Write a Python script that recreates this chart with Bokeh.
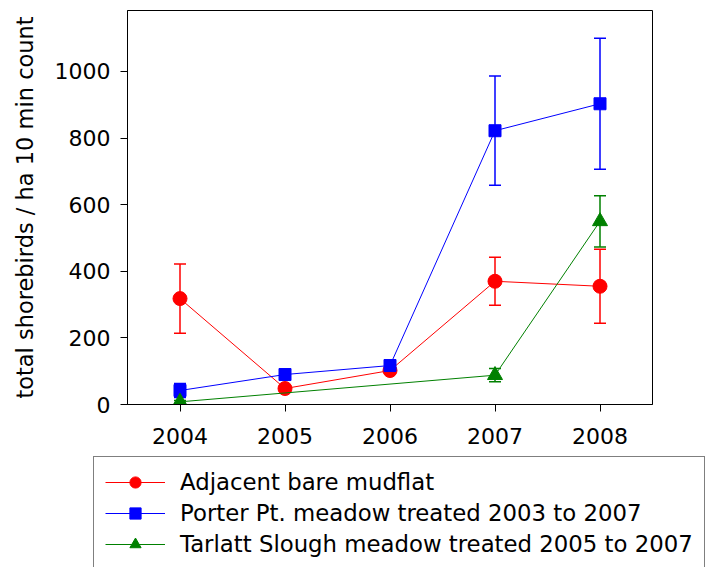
from bokeh.plotting import figure
from bokeh.models import Range1d, ColumnDataSource, Whisker, TeeHead, Legend, LegendItem, FixedTicker
from bokeh.layouts import column, row
from bokeh.embed import file_html
from bokeh.resources import INLINE

years = [2004, 2005, 2006, 2007, 2008]
mudflat = [318, 48, 102, 370, 355]
mudflat_err = [104, 8, 8, 72, 111]
porter = [42, 90, 117, 822, 903]
porter_err = [21, 8, 8, 164, 197]
tarlatt_years = [2004, 2007, 2008]
tarlatt = [8, 88, 550]
tarlatt_err = [4, 20, 77]
y_ticks = [0, 200, 400, 600, 800, 1000]
labels = ["Adjacent bare mudflat",
          "Porter Pt. meadow treated 2003 to 2007",
          "Tarlatt Slough meadow treated 2005 to 2007"]

FONT = "DejaVu Sans"

p = figure(width=710, height=450, output_backend="svg", toolbar_location=None,
           x_range=Range1d(2003.5, 2008.5), y_range=Range1d(0, 1183),
           min_border_left=127, min_border_right=58, min_border_top=10, min_border_bottom=46)
p.frame_width = 525
p.frame_height = 394
p.xgrid.visible = False
p.ygrid.visible = False
p.outline_line_color = "black"
p.outline_line_width = 1
p.background_fill_color = "white"
p.border_fill_color = "white"

for ax in (p.xaxis[0], p.yaxis[0]):
    ax.axis_line_color = "black"
    ax.major_tick_line_color = "black"
    ax.minor_tick_line_color = None
    ax.major_tick_in = 0
    ax.major_tick_out = 7
    ax.major_label_text_font = FONT
    ax.major_label_text_font_size = "22px"
    ax.major_label_text_color = "black"

p.xaxis.ticker = FixedTicker(ticks=years)
p.yaxis.ticker = FixedTicker(ticks=y_ticks)
p.xaxis.major_label_standoff = 16
p.yaxis.major_label_standoff = 10
p.yaxis.axis_label = "total shorebirds / ha 10 min count"
p.yaxis.axis_label_text_font = FONT
p.yaxis.axis_label_text_font_size = "22.5px"
p.yaxis.axis_label_text_font_style = "normal"
p.yaxis.axis_label_text_color = "black"
p.yaxis.axis_label_standoff = 14

series = [
    (years, mudflat, mudflat_err, "#ff0000", "circle", 14, labels[0]),
    (years, porter, porter_err, "#0000ff", "square", 12, labels[1]),
    (tarlatt_years, tarlatt, tarlatt_err, "#008000", "triangle", 15, labels[2]),
]

# legend-only figure below the chart
leg = figure(output_backend="svg", toolbar_location=None,
             x_range=Range1d(0, 1), y_range=Range1d(0, 1),
             min_border_left=0, min_border_right=0, min_border_top=0, min_border_bottom=0)
leg.frame_width = 710
leg.frame_height = 117
leg.axis.visible = False
leg.xgrid.visible = False
leg.ygrid.visible = False
leg.outline_line_color = None
leg.border_fill_color = "white"
leg.background_fill_color = "white"

items = []
for xs, vals, errs, color, marker, size, label in series:
    src = ColumnDataSource(dict(
        x=xs, y=vals,
        upper=[v + e for v, e in zip(vals, errs)],
        lower=[v - e for v, e in zip(vals, errs)],
    ))
    w = Whisker(source=src, base="x", upper="upper", lower="lower",
                line_color=color, line_width=1.5,
                upper_head=TeeHead(size=12, line_color=color, line_width=1.5),
                lower_head=TeeHead(size=12, line_color=color, line_width=1.5))
    p.add_layout(w)
    p.line("x", "y", source=src, line_color=color, line_width=1)
    p.scatter("x", "y", source=src, marker=marker, size=size,
              fill_color=color, line_color=color)
    lsrc = ColumnDataSource(dict(x=[-5, -4], y=[-5, -4]))
    r1 = leg.line("x", "y", source=lsrc, line_color=color, line_width=1)
    r2 = leg.scatter("x", "y", source=lsrc, marker=marker, size=size - 2,
                     fill_color=color, line_color=color)
    items.append(LegendItem(label=label, renderers=[r1, r2]))

legend = Legend(items=items, location=(93, -3), orientation="vertical",
                border_line_color="black", border_line_width=1,
                background_fill_color="white", background_fill_alpha=1,
                label_text_font=FONT, label_text_font_size="22.8px",
                label_text_color="black",
                glyph_width=60, glyph_height=28, label_height=28,
                label_standoff=15, spacing=3, padding=11, margin=0)
leg.add_layout(legend, "center")

layout = column(p, row(leg, spacing=0), spacing=0)
open("out.html", "w").write(file_html(layout, INLINE))
